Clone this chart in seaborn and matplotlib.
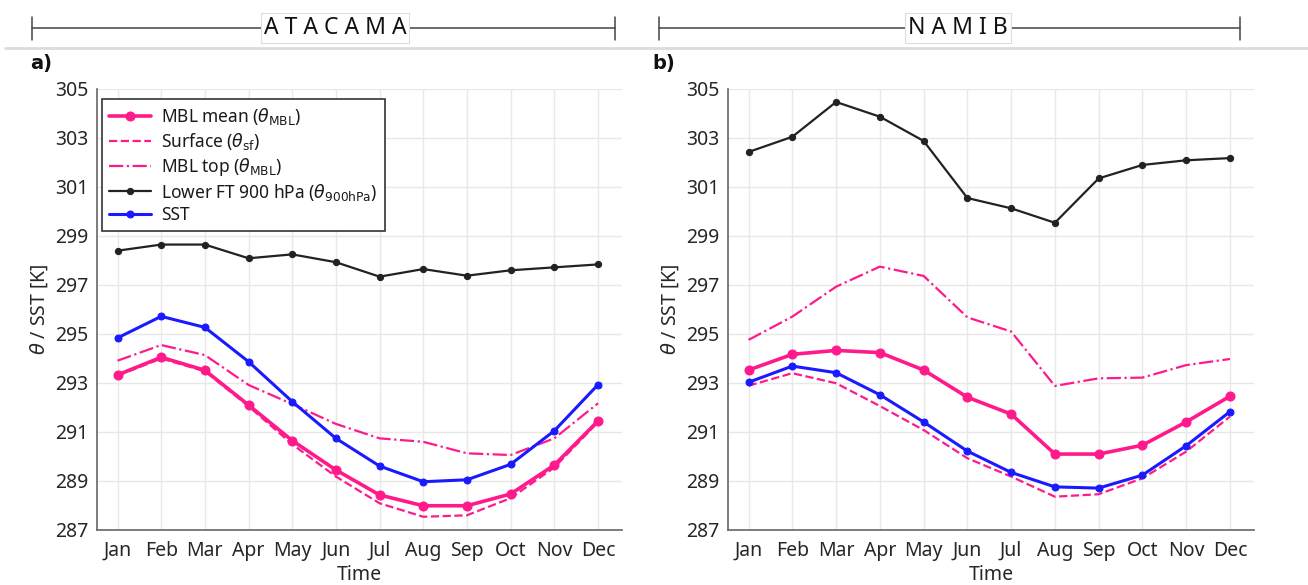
import matplotlib
matplotlib.use("Agg")
import matplotlib.pyplot as plt
import seaborn as sns
from matplotlib.lines import Line2D

# ---- data -------------------------------------------------------------
months = ["Jan", "Feb", "Mar", "Apr", "May", "Jun",
          "Jul", "Aug", "Sep", "Oct", "Nov", "Dec"]
yticks = [287, 289, 291, 293, 295, 297, 299, 301, 303, 305]

# Atacama
ata_mbl_mean = [293.33, 294.05, 293.52, 292.10, 290.65, 289.45,
                288.43, 287.99, 287.99, 288.47, 289.65, 291.45]
ata_surface = [293.30, 294.00, 293.48, 292.05, 290.50, 289.18,
               288.09, 287.54, 287.60, 288.30, 289.55, 291.40]
ata_mbl_top = [293.91, 294.55, 294.14, 292.92, 292.14, 291.33,
               290.74, 290.60, 290.13, 290.06, 290.74, 292.17]
ata_ft900 = [298.40, 298.65, 298.65, 298.09, 298.25, 297.93,
             297.34, 297.65, 297.38, 297.60, 297.72, 297.84]
ata_sst = [294.84, 295.72, 295.27, 293.87, 292.24, 290.74,
           289.61, 288.97, 289.05, 289.68, 291.05, 292.93]

# Namib
nam_mbl_mean = [293.53, 294.17, 294.33, 294.24, 293.53, 292.42,
                291.73, 290.10, 290.10, 290.46, 291.41, 292.46]
nam_surface = [292.89, 293.40, 292.99, 292.06, 291.08, 289.93,
               289.18, 288.36, 288.46, 289.11, 290.20, 291.63]
nam_mbl_top = [294.76, 295.71, 296.93, 297.75, 297.37, 295.68,
               295.10, 292.88, 293.19, 293.22, 293.73, 293.98]
nam_ft900 = [302.43, 303.05, 304.47, 303.87, 302.88, 300.55,
             300.13, 299.54, 301.35, 301.90, 302.09, 302.18]
nam_sst = [293.03, 293.69, 293.42, 292.52, 291.41, 290.22,
           289.35, 288.76, 288.71, 289.24, 290.44, 291.83]

labels = [r"MBL mean ($\theta_{\mathrm{MBL}}$)",
          r"Surface ($\theta_{\mathrm{sf}}$)",
          r"MBL top ($\theta_{\mathrm{MBL}}$)",
          r"Lower FT 900 hPa ($\theta_{\mathrm{900hPa}}$)",
          "SST"]

PINK = "#ff1a8c"
BLUE = "#1a1aff"
BLACK = "#222222"

sns.set_theme(style="white")
plt.rcParams["font.family"] = ["Noto Sans", "DejaVu Sans"]
plt.rcParams["mathtext.fontset"] = "dejavusans"

W, H = 1308, 585
fig = plt.figure(figsize=(W / 100, H / 100), dpi=100)


def fx(px):
    return px / W


def fy(py):
    return 1 - py / H


ax_a = fig.add_axes([fx(97), fy(530), fx(622) - fx(97), fy(89) - fy(530)])
ax_b = fig.add_axes([fx(728), fy(530), fx(1254) - fx(728), fy(89) - fy(530)])

x = list(range(12))


def draw_panel(ax, mbl_mean, surface, mbl_top, ft900, sst):
    sns.lineplot(x=x, y=mbl_mean, ax=ax, color=PINK, lw=2.6, marker="o",
                 ms=6.5, mec=PINK, mfc=PINK, label=labels[0], legend=False)
    sns.lineplot(x=x, y=surface, ax=ax, color=PINK, lw=1.6, linestyle="--",
                 dashes=(5, 3), label=labels[1], legend=False)
    sns.lineplot(x=x, y=mbl_top, ax=ax, color=PINK, lw=1.6, linestyle="-.",
                 dashes=(6, 2.5, 1, 2.5), label=labels[2], legend=False)
    sns.lineplot(x=x, y=ft900, ax=ax, color=BLACK, lw=1.6, marker="o",
                 ms=4.5, mec=BLACK, mfc=BLACK, label=labels[3], legend=False)
    sns.lineplot(x=x, y=sst, ax=ax, color=BLUE, lw=2.2, marker="o",
                 ms=5, mec=BLUE, mfc=BLUE, label=labels[4], legend=False)

    ax.set_xlim(-0.47, 11.55)
    ax.set_ylim(287, 305)
    ax.set_xticks(x)
    ax.set_xticklabels(months)
    ax.set_yticks(yticks)
    ax.grid(True, color="#e8e8e8", lw=1.0)
    ax.set_axisbelow(True)
    for side in ("top", "right"):
        ax.spines[side].set_visible(False)
    for side in ("left", "bottom"):
        ax.spines[side].set_color("#666666")
        ax.spines[side].set_linewidth(1.2)
    ax.tick_params(axis="both", direction="in", length=5, width=1,
                   color="#666666", labelsize=14, labelcolor="#262626")
    ax.tick_params(axis="x", pad=8)
    ax.tick_params(axis="y", pad=6)
    ax.set_xlabel("Time", fontsize=14, color="#262626", labelpad=3)
    ax.set_ylabel(r"$\theta$ / SST [K]", fontsize=14, color="#262626",
                  labelpad=4)


draw_panel(ax_a, ata_mbl_mean, ata_surface, ata_mbl_top, ata_ft900, ata_sst)
draw_panel(ax_b, nam_mbl_mean, nam_surface, nam_mbl_top, nam_ft900, nam_sst)

leg = ax_a.legend(loc="upper left", bbox_to_anchor=(0.01, 0.977),
                  fontsize=12.5, frameon=True, fancybox=False,
                  edgecolor="#333333", framealpha=1, handlelength=2.4,
                  handletextpad=0.6, labelspacing=0.22, borderpad=0.4,
                  borderaxespad=0)
leg.get_frame().set_linewidth(1.2)
for t in leg.get_texts():
    t.set_color("#1a1a1a")

# ---- region headers --------------------------------------------------
def header(x0, x1, text, xc):
    y = fy(28)
    fig.add_artist(Line2D([fx(x0), fx(x1)], [y, y], color="#444444",
                          lw=1.1, transform=fig.transFigure))
    for xe in (x0, x1):
        fig.add_artist(Line2D([fx(xe), fx(xe)], [fy(17), fy(40)],
                              color="#444444", lw=1.1,
                              transform=fig.transFigure))
    fig.text(fx(xc), y, text, ha="center", va="center", fontsize=16.5,
             color="#111111",
             bbox=dict(boxstyle="square,pad=0.12", fc="white",
                       ec="#dddddd", lw=0.8))


header(32, 615, "A T A C A M A", 335)
header(659, 1240, "N A M I B", 958)

fig.add_artist(Line2D([fx(5), fx(1308)], [fy(48), fy(48)], color="#dcdcdc",
                      lw=2, transform=fig.transFigure))

for xpos, tag in ((30, "a)"), (652, "b)")):
    fig.text(fx(xpos), fy(63), tag, fontsize=14, fontweight="bold",
             family="DejaVu Sans", ha="left", va="center", color="#111111")

fig.savefig("out.png", dpi=100, facecolor="white")
